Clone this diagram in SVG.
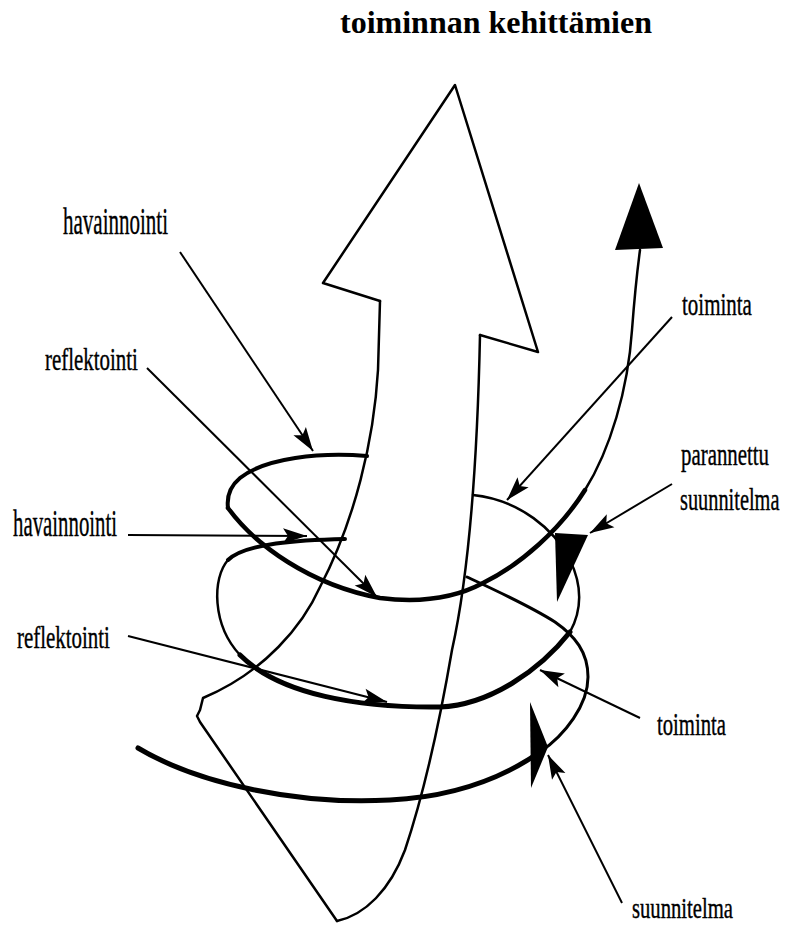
<svg xmlns="http://www.w3.org/2000/svg" width="785" height="925" viewBox="0 0 785 925">
<style>
.lbl{font-family:"Liberation Serif","Times New Roman",serif;fill:#000;stroke:#000;stroke-width:0.4}
.big{font-size:38px}
.med{font-size:32px}
.sm{font-size:30px}
.title{font-family:"Liberation Serif","Times New Roman",serif;font-size:32px;font-weight:bold;fill:#000}
.ol{fill:none;stroke:#000;stroke-linejoin:round;stroke-linecap:round}
.ptr{fill:none;stroke:#000;stroke-width:2}
</style>
<defs>
<marker id="ah" markerUnits="userSpaceOnUse" orient="auto" refX="0" refY="0" markerWidth="30" markerHeight="20" viewBox="-26 -10 28 20" overflow="visible">
<path d="M0,0 L-24,-7.5 L-19,0 L-24,7.5 Z" fill="#000"/>
</marker>
</defs>
<rect width="785" height="925" fill="#fff"/>

<g id="title"><text class="title" x="340" y="33" textLength="312" lengthAdjust="spacingAndGlyphs">toiminnan kehittämien</text></g>

<g id="big-arrow">
<path class="ol" stroke-width="2.5" fill="#fff" d="M380,301 L323,283 L455,85 L538,352 L480,335"/>
<path class="ol" stroke-width="2.5" d="M480,335 C478,430 472,560 452,650 C440,720 425,790 405,850 C390,890 365,915 337,921"/>
<path class="ol" stroke-width="2.5" d="M380,301 L378,370 C374,440 355,520 320,587 C303,625 265,672 203,698 L200,710 L197,716 L200,722 L337,921"/>
</g>

<g id="spiral">
<path class="ol" stroke-width="5" d="M138,748 C200,785 300,805 390,800 C450,797 500,780 540,752"/>
<path class="ol" stroke-width="3" d="M540,752 C565,735 588,705 588,677 C588,652 575,636 555,622 C530,606 495,590 467,577"/>
<path class="ol" stroke-width="4" d="M345,539 C300,540 245,543 228,560"/>
<path class="ol" stroke-width="2.5" d="M228,560 C212,578 212,625 240,655"/>
<path class="ol" stroke-width="5" d="M240,655 C280,695 360,708 440,707 C490,705 540,670 570,632"/>
<path class="ol" stroke-width="2.5" d="M570,632 C582,610 582,585 570,560 C555,530 520,500 473,495"/>
<path class="ol" stroke-width="4" d="M367,456 C320,452 265,458 240,478 C228,488 227,500 228,508"/>
<path class="ol" stroke-width="4.5" d="M228,508 C255,545 310,585 380,598 C420,603 455,598 483,583 C520,565 560,530 585,490"/>
<path class="ol" stroke-width="2.5" d="M585,490 C610,450 628,390 632,330 C635,290 638,265 640,250"/>
<polygon points="639,183 615,250 663,248" fill="#000"/>
<polygon points="555,533 588,535 557,602" fill="#000"/>
<polygon points="530,702 548,747 531,788" fill="#000"/>
</g>

<g id="connectors">
<line class="ptr" x1="180" y1="252" x2="313" y2="451" marker-end="url(#ah)"/>
<line class="ptr" x1="147" y1="368" x2="377" y2="597" marker-end="url(#ah)"/>
<line class="ptr" x1="128" y1="535" x2="307" y2="536" marker-end="url(#ah)"/>
<line class="ptr" x1="128" y1="636" x2="387" y2="702" marker-end="url(#ah)"/>
<line class="ptr" x1="672" y1="317" x2="507" y2="500" marker-end="url(#ah)"/>
<line class="ptr" x1="672" y1="484" x2="590" y2="533" marker-end="url(#ah)"/>
<line class="ptr" x1="640" y1="718" x2="540" y2="670" marker-end="url(#ah)"/>
<line class="ptr" x1="622" y1="903" x2="548" y2="755" marker-end="url(#ah)"/>
</g>

<g id="havainnointi-1"><text class="lbl big" transform="translate(63,234) scale(0.553,1)">havainnointi</text></g>
<g id="reflektointi-1"><text class="lbl med" transform="translate(45,370) scale(0.654,1)">reflektointi</text></g>
<g id="havainnointi-2"><text class="lbl big" transform="translate(13,536) scale(0.548,1)">havainnointi</text></g>
<g id="reflektointi-2"><text class="lbl med" transform="translate(17,648) scale(0.654,1)">reflektointi</text></g>
<g id="toiminta-1"><text class="lbl med" transform="translate(682,315) scale(0.656,1)">toiminta</text></g>
<g id="parannettu-suunnitelma"><text class="lbl med" transform="translate(681,465) scale(0.652,1)">parannettu</text><text class="lbl med" transform="translate(680,510) scale(0.636,1)">suunnitelma</text></g>
<g id="toiminta-2"><text class="lbl med" transform="translate(657,735) scale(0.647,1)">toiminta</text></g>
<g id="suunnitelma"><text class="lbl sm" transform="translate(632,918) scale(0.689,1)">suunnitelma</text></g>
</svg>
